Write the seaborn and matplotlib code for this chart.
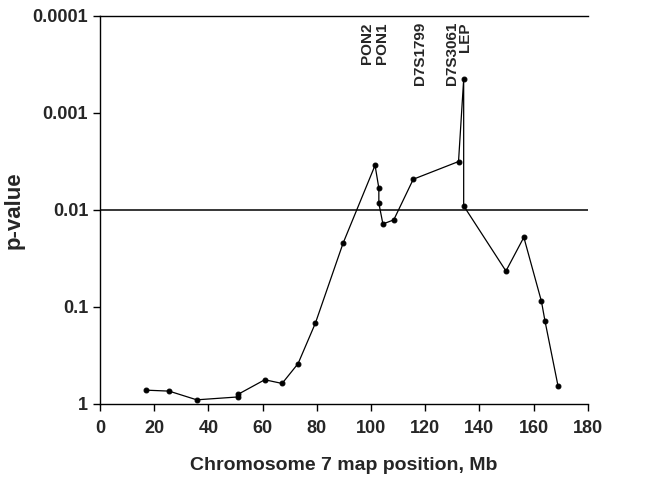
import numpy as np
import matplotlib
matplotlib.use("Agg")
import matplotlib.pyplot as plt
import matplotlib.ticker as mticker
import seaborn as sns

# --- データ ---
position_mb = [16.8, 25.5, 35.7, 50.9, 50.9, 60.8, 67.2, 73.1, 79.5, 89.7,
               101.5, 102.9, 102.9, 104.4, 108.4, 115.6, 132.3, 134.2, 134.2,
               149.8, 156.4, 162.9, 164.2, 169.0]
p_value = [0.723, 0.74, 0.91, 0.85, 0.80, 0.565, 0.617, 0.385, 0.147, 0.0221,
           0.00348, 0.00598, 0.00855, 0.0140, 0.0127, 0.00484, 0.00318, 0.000451, 0.0091,
           0.0428, 0.0192, 0.088, 0.14, 0.652]

marker_names = ["PON2", "PON1", "D7S1799", "D7S3061", "LEP"]
marker_pos = [98.5, 104.1, 118.2, 129.8, 134.7]

threshold = 0.01
y_ticks = [1e-4, 1e-3, 1e-2, 1e-1, 1]
y_tick_labels = ["0.0001", "0.001", "0.01", "0.1", "1"]
x_ticks = list(range(0, 181, 20))

sns.set_style("white")
plt.rcParams['font.family'] = ['Liberation Sans', 'DejaVu Sans']
plt.rcParams['font.weight'] = 'bold'

fig = plt.figure(figsize=(6.71, 4.79), dpi=100)
ax = fig.add_axes([0.149, 0.157, 0.727, 0.810])

sns.lineplot(x=position_mb, y=p_value, sort=False, estimator=None,
             color="black", linewidth=0.9, marker="o", markersize=3.5,
             markeredgecolor="black", ax=ax)

ax.axhline(threshold, color="black", linewidth=1.1)

ax.set_yscale("log")
ax.set_ylim(1, 1e-4)
ax.set_xlim(0, 180)
ax.yaxis.set_major_locator(mticker.FixedLocator(y_ticks))
ax.yaxis.set_minor_locator(mticker.NullLocator())
ax.set_yticklabels(y_tick_labels)
ax.set_xticks(x_ticks)

ax.tick_params(axis="both", direction="out", length=5, width=1, color="black",
               labelsize=13, left=True, bottom=True)
ax.tick_params(axis="x", pad=7)
for lab in ax.get_xticklabels() + ax.get_yticklabels():
    lab.set_fontweight("bold")

ax.set_xlabel("Chromosome 7 map position, Mb", fontsize=14, fontweight="bold", labelpad=14)
ax.set_ylabel("p-value", fontsize=16, fontweight="bold", labelpad=6)

for side in ["left", "bottom", "top"]:
    ax.spines[side].set_color("black")
    ax.spines[side].set_linewidth(1)
ax.spines["right"].set_visible(False)

# マーカー名（縦書き）
trans = ax.get_xaxis_transform()
for name, xp in zip(marker_names, marker_pos):
    ax.text(xp, 0.984, name, rotation=90, ha="center", va="top",
            fontsize=11, fontweight="bold", transform=trans)

fig.savefig("out.png", dpi=100)
